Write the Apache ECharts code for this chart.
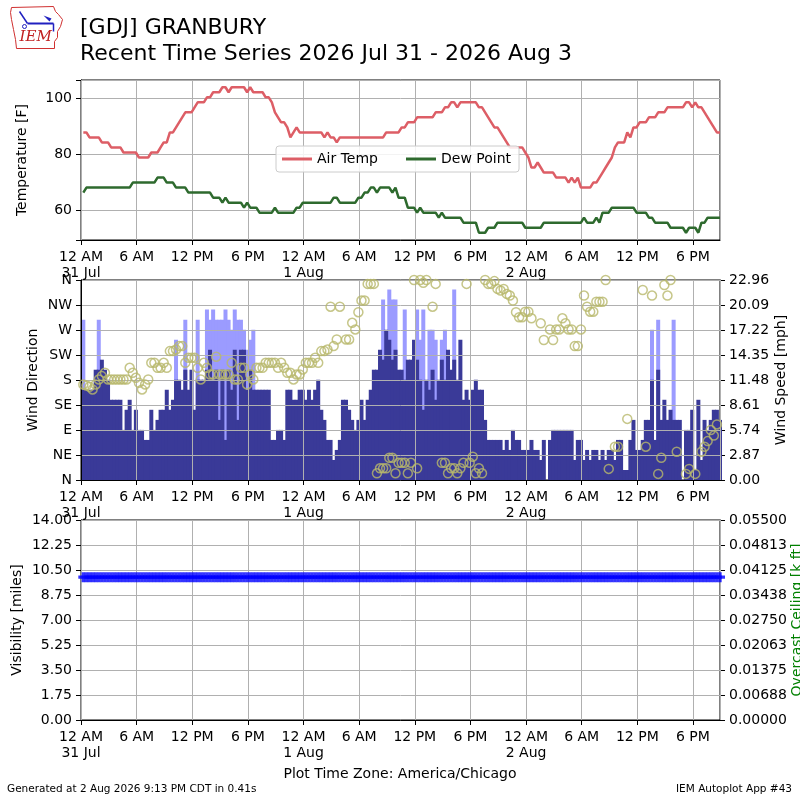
<!DOCTYPE html>
<html>
  <head>
      <meta charset="utf-8">
      <script src="https://cdn.jsdelivr.net/npm/echarts@6/dist/echarts.min.js"></script>
      <style>
        html, body { margin: 0; padding: 0; background: #fff; }
      </style>
  </head>
  <body>
      <div id="main" style="width: 800px;height:800px;"></div>
      <script type="text/javascript">
          // observations every 20 minutes, first at 00:15 on 31 Jul (local time)
          var firstObs = new Date(2026, 6, 31, 0, 15).getTime();
          var obsStep = 20 * 60 * 1000;
          var axisStart = new Date(2026, 6, 31, 0, 0).getTime();
          var axisEnd = new Date(2026, 7, 2, 20, 55).getTime();
          var sixHours = 6 * 3600 * 1000;

          // air temperature [F], one row = 6 hours
          var airTemp = [
            87.8,87.8,86,86,86,86,84.2,84.2,84.2,82.4,82.4,82.4,82.4,80.6,80.6,80.6,80.6,80.6,
            78.8,78.8,78.8,78.8,80.6,80.6,80.6,82.4,84.2,84.2,87.8,87.8,89.6,91.4,93.2,95,95,95,
            96.8,98.6,98.6,98.6,100.4,100.4,102.2,102.2,102.2,104,104,102.2,104,104,104,104,104,102.2,
            104,102.2,102.2,102.2,102.2,100.4,100.4,98.6,95,93.2,91.4,91.4,89.6,86,87.8,89.6,87.8,87.8,
            87.8,87.8,87.8,87.8,87.8,87.8,86,87.8,86,86,84.2,86,86,86,86,86,86,86,
            86,86,86,86,86,86,86,86,87.8,87.8,87.8,87.8,87.8,89.6,89.6,91.4,91.4,91.4,
            93.2,93.2,93.2,93.2,93.2,93.2,95,95,95,96.8,96.8,98.6,98.6,96.8,98.6,98.6,98.6,98.6,
            98.6,98.6,96.8,96.8,95,93.2,91.4,89.6,89.6,87.8,86,84.2,82.4,82.4,82.4,82.4,82.4,80.6,
            78.8,75.2,75.2,77,75.2,73.4,73.4,73.4,73.4,71.6,71.6,71.6,71.6,69.8,71.6,69.8,71.6,68,
            68,68,68,69.8,69.8,71.6,73.4,75.2,77,78.8,82.4,84.2,84.2,84.2,87.8,86,89.6,89.6,
            91.4,91.4,91.4,93.2,93.2,93.2,95,95,95,96.8,96.8,96.8,96.8,96.8,96.8,98.6,98.6,96.8,
            98.6,96.8,96.8,95,93.2,91.4,89.6,87.8,87.8
          ];

          // dew point [F]
          var dewPoint = [
            66.2,68,68,68,68,68,68,68,68,68,68,68,68,68,68,68,69.8,69.8,
            69.8,69.8,69.8,69.8,69.8,69.8,71.6,71.6,71.6,69.8,69.8,69.8,68,68,68,68,66.2,66.2,
            66.2,66.2,66.2,66.2,66.2,66.2,64.4,64.4,64.4,62.6,64.4,62.6,62.6,62.6,62.6,62.6,60.8,62.6,
            60.8,60.8,60.8,59,59,59,59,59,60.8,59,59,59,59,59,59,60.8,60.8,62.6,
            62.6,62.6,62.6,62.6,62.6,62.6,62.6,62.6,62.6,64.4,64.4,62.6,62.6,62.6,62.6,62.6,62.6,64.4,
            64.4,66.2,66.2,68,68,66.2,68,68,68,68,66.2,68,64.4,64.4,64.4,60.8,60.8,60.8,
            59,60.8,59,59,59,59,59,57.2,59,57.2,57.2,57.2,57.2,57.2,57.2,55.4,55.4,55.4,
            55.4,55.4,51.8,51.8,51.8,53.6,53.6,53.6,55.4,55.4,55.4,55.4,55.4,55.4,55.4,55.4,55.4,53.6,
            53.6,53.6,53.6,53.6,53.6,55.4,55.4,55.4,55.4,55.4,55.4,55.4,55.4,55.4,55.4,55.4,55.4,55.4,
            57.2,55.4,55.4,55.4,57.2,55.4,59,59,59,60.8,60.8,60.8,60.8,60.8,60.8,60.8,60.8,59,
            59,59,59,57.2,57.2,55.4,55.4,55.4,55.4,55.4,53.6,53.6,53.6,53.6,53.6,51.8,53.6,53.6,
            53.6,51.8,55.4,55.4,57.2,57.2,57.2,57.2,57.2
          ];

          // wind speed [mph]
          var windSpeed = [
            10.36,10.36,10.36,10.36,12.66,12.66,13.81,12.66,11.51,9.21,9.21,9.21,9.21,5.75,8.06,9.21,5.75,8.06,
            5.75,5.75,4.60,4.60,8.06,5.75,6.90,8.06,8.06,10.36,8.06,9.21,11.51,11.51,10.36,12.66,10.36,12.66,
            8.06,11.51,11.51,11.51,12.66,14.96,11.51,12.66,6.90,12.66,4.60,12.66,10.36,14.96,6.90,14.96,14.96,10.36,
            12.66,10.36,10.36,10.36,10.36,10.36,10.36,4.60,4.60,5.75,5.75,4.60,10.36,10.36,9.21,9.21,10.36,10.36,
            9.21,10.36,9.21,10.36,11.51,8.06,6.90,4.60,4.60,2.30,3.45,4.60,9.21,9.21,8.06,6.90,5.75,6.90,
            9.21,6.90,9.21,10.36,12.66,12.66,14.96,13.81,17.26,16.11,13.81,14.96,12.66,12.66,11.51,13.81,13.81,16.11,
            13.81,11.51,8.06,11.51,10.36,12.66,9.21,11.51,13.81,11.51,14.96,12.66,13.81,11.51,16.11,9.21,10.36,9.21,
            10.36,11.51,10.36,10.36,6.90,4.60,4.60,4.60,4.60,4.60,3.45,4.60,3.45,5.75,4.60,4.60,3.45,3.45,
            3.45,4.60,3.45,3.45,2.30,4.60,null,4.60,5.75,5.75,5.75,5.75,5.75,5.75,5.75,2.30,4.60,4.60,
            2.30,3.45,2.30,3.45,3.45,2.30,3.45,2.30,3.45,3.45,2.30,4.60,4.60,1.15,1.15,4.60,6.90,3.45,
            3.45,4.60,6.90,6.90,11.51,4.60,12.66,6.90,9.21,6.90,8.06,6.90,6.90,6.90,null,5.75,5.75,8.06,
            1.15,9.21,2.30,6.90,5.75,6.90,8.06,8.06,6.90
          ];

          // wind gust [mph]
          var windGust = [
            18.41,null,null,null,null,18.41,null,null,null,null,null,null,null,null,null,null,null,null,
            null,null,null,null,null,null,null,null,null,null,null,null,16.11,null,null,18.41,null,null,
            null,18.41,null,null,19.56,18.41,19.56,18.41,18.41,18.41,19.56,18.41,17.26,19.56,18.41,18.41,17.26,14.96,
            16.11,17.26,null,null,null,null,null,null,null,null,null,null,null,null,null,null,null,null,
            null,null,null,null,null,null,null,null,null,null,null,null,null,null,null,null,null,null,
            null,null,null,null,null,null,null,20.71,null,21.86,20.71,20.71,null,null,19.56,null,null,null,
            19.56,16.11,19.56,null,17.26,17.26,16.11,null,16.11,17.26,null,null,21.86,null,null,null,null,null,
            null,null,null,null,null,null,null,null,null,null,null,null,null,null,null,null,null,null,
            null,null,null,null,null,null,null,null,null,null,null,null,null,null,null,null,null,null,
            null,null,null,null,null,null,null,null,null,null,null,null,null,null,null,null,null,null,
            null,null,null,null,17.26,null,18.41,null,null,null,null,18.41,null,null,null,null,null,null,
            null,null,null,null,null,null,null,null,null
          ];

          // wind direction [deg]
          var windDir = [
            172,170,168,163,172,181,187,193,181,181,181,181,181,181,181,202,193,184,
            175,163,172,181,211,211,202,202,211,202,232,232,235,241,241,211,220,220,
            220,202,181,211,202,190,190,222,190,190,190,190,211,181,181,202,202,172,
            190,181,202,202,202,211,211,211,211,202,211,202,193,193,181,190,190,199,
            211,211,211,220,211,232,232,235,312,241,253,312,null,253,253,283,271,302,
            323,323,353,353,353,12,21,21,21,40,40,12,31,31,31,12,31,360,
            21,360,355,360,null,312,353,null,31,31,12,21,21,12,21,31,353,31,
            42,12,21,12,360,353,353,358,344,341,344,335,332,323,302,293,293,303,
            303,291,null,null,282,252,null,271,252,271,271,291,282,271,271,241,241,271,
            332,312,303,303,321,321,321,360,20,null,60,60,null,null,110,null,null,null,
            null,342,60,null,332,null,11,40,351,332,360,null,51,null,null,11,20,null,
            11,null,51,60,70,90,80,100,null
          ];

          // visibility [miles]
          var visibility = [
            10,10,10,10,10,10,10,10,10,10,10,10,10,10,10,10,10,10,
            10,10,10,10,10,10,10,10,10,10,10,10,10,10,10,10,10,10,
            10,10,10,10,10,10,10,10,10,10,10,10,10,10,10,10,10,10,
            10,10,10,10,10,10,10,10,10,10,10,10,10,10,10,10,10,10,
            10,10,10,10,10,10,10,10,10,10,10,10,10,10,10,10,10,10,
            10,10,10,10,10,10,10,10,10,10,10,10,10,10,10,10,10,10,
            10,10,10,10,10,10,10,10,10,10,10,10,10,10,10,10,10,10,
            10,10,10,10,10,10,10,10,10,10,10,10,10,10,10,10,10,10,
            10,10,10,10,10,10,10,10,10,10,10,10,10,10,10,10,10,10,
            10,10,10,10,10,10,10,10,10,10,10,10,10,10,10,10,10,10,
            10,10,10,10,10,10,10,10,10,10,10,10,10,10,10,10,10,10,
            10,10,10,10,10,10,10,10,10
          ];

          // tick labels
          var dirLabels = ['N', 'NE', 'E', 'SE', 'S', 'SW', 'W', 'NW', 'N'];
          var speedLabels = ['0.00', '2.87', '5.74', '8.61', '11.48', '14.35', '17.22', '20.09', '22.96'];
          var visLabels = ['0.00', '1.75', '3.50', '5.25', '7.00', '8.75', '10.50', '12.25', '14.00'];
          var ceilLabels = ['0.00000', '0.00688', '0.01375', '0.02063', '0.02750', '0.03438', '0.04125', '0.04813', '0.05500'];
          var hourLabels = {0: '12 AM', 6: '6 AM', 12: '12 PM', 18: '6 PM'};
          var monthNames = ['Jan', 'Feb', 'Mar', 'Apr', 'May', 'Jun', 'Jul', 'Aug', 'Sep', 'Oct', 'Nov', 'Dec'];

          var obsTimes = airTemp.map(function (v, i) { return firstObs + i * obsStep; });
          function pairs(arr) {
              var out = [];
              arr.forEach(function (v, i) {
                  if (v !== null) out.push([obsTimes[i], v]);
              });
              return out;
          }

          var font = 'DejaVu Sans';
          var gridColor = '#b0b0b0';

          function timeLabel(v) {
              if (Math.round(v - axisStart) % sixHours !== 0) return '';
              var d = new Date(v);
              var h = d.getHours();
              var s = hourLabels[h];
              if (h === 0) s += '\n' + d.getDate() + ' ' + monthNames[d.getMonth()];
              return s;
          }

          function xAxisFor(idx) {
              return {
                  type: 'value',
                  gridIndex: idx,
                  min: axisStart,
                  max: axisEnd,
                  interval: sixHours,
                  z: 3,
                  axisLine: {lineStyle: {color: '#000', width: 1}},
                  axisTick: {length: 5, lineStyle: {color: '#000'}},
                  axisLabel: {
                      formatter: timeLabel, color: '#000', fontSize: 14, fontFamily: font,
                      margin: 9, lineHeight: 16, showMaxLabel: false, hideOverlap: false
                  },
                  splitLine: {show: true, lineStyle: {color: gridColor, width: 1}}
              };
          }

          var axisText = {color: '#000', fontSize: 14, fontFamily: font};

          var myChart = echarts.init(document.getElementById('main'), null, {renderer: 'canvas'});

          var gridBase = {left: 81, width: 639, show: true, borderColor: '#000', borderWidth: 1,
                          containLabel: false, outerBoundsMode: 'none'};

          var option = {
              animation: false,
              backgroundColor: '#fff',
              textStyle: {fontFamily: font},
              grid: [
                  Object.assign({top: 80, height: 160}, gridBase),
                  Object.assign({top: 280, height: 200}, gridBase),
                  Object.assign({top: 520, height: 200}, gridBase)
              ],
              legend: {
                  data: ['Air Temp', 'Dew Point'],
                  left: 276, top: 146,
                  icon: 'rect', itemWidth: 30, itemHeight: 3, itemGap: 28,
                  padding: [6, 8, 6, 6],
                  backgroundColor: 'rgba(255,255,255,0.85)',
                  borderColor: '#cccccc', borderWidth: 1, borderRadius: 3,
                  textStyle: {color: '#000', fontSize: 14, fontFamily: font}
              },
              xAxis: [xAxisFor(0), xAxisFor(1), xAxisFor(2)],
              yAxis: [
                  {
                      type: 'value', gridIndex: 0, min: 49.2, max: 106.6, splitNumber: 3,
                      name: 'Temperature [F]', nameLocation: 'middle', nameRotate: 90, nameGap: 52,
                      nameMoveOverlap: false, nameTextStyle: axisText,
                      axisLine: {show: true, lineStyle: {color: '#000'}},
                      axisTick: {show: true, length: 5, lineStyle: {color: '#000'}},
                      axisLabel: {
                          color: '#000', fontSize: 14, fontFamily: font, margin: 9,
                          formatter: function (v) { return (Math.abs(v % 20) < 1e-6) ? String(v) : ''; }
                      },
                      splitLine: {lineStyle: {color: gridColor, width: 1}}
                  },
                  {
                      type: 'value', gridIndex: 1, min: 0, max: 360, interval: 45, z: 3,
                      name: 'Wind Direction', nameLocation: 'middle', nameRotate: 90, nameGap: 41,
                      nameMoveOverlap: false, nameTextStyle: axisText,
                      axisLine: {show: true, lineStyle: {color: '#000'}},
                      axisTick: {show: true, length: 5, lineStyle: {color: '#000'}},
                      axisLabel: {
                          color: '#000', fontSize: 14, fontFamily: font, margin: 9,
                          formatter: function (v) { return dirLabels[Math.round(v / 45)]; }
                      },
                      splitLine: {lineStyle: {color: gridColor, width: 1}}
                  },
                  {
                      type: 'value', gridIndex: 1, position: 'right', min: 0, max: 22.96, interval: 2.87,
                      name: 'Wind Speed [mph]', nameLocation: 'middle', nameRotate: 90, nameGap: 54,
                      nameMoveOverlap: false, nameTextStyle: axisText,
                      axisLine: {show: true, lineStyle: {color: '#000'}},
                      axisTick: {show: true, length: 5, lineStyle: {color: '#000'}},
                      axisLabel: {
                          color: '#000', fontSize: 14, fontFamily: font, margin: 9,
                          formatter: function (v) { return speedLabels[Math.round(v / 2.87)]; }
                      },
                      splitLine: {show: false}
                  },
                  {
                      type: 'value', gridIndex: 2, min: 0, max: 14, interval: 1.75,
                      name: 'Visibility [miles]', nameLocation: 'middle', nameRotate: 90, nameGap: 57,
                      nameMoveOverlap: false, nameTextStyle: axisText,
                      axisLine: {show: true, lineStyle: {color: '#000'}},
                      axisTick: {show: true, length: 5, lineStyle: {color: '#000'}},
                      axisLabel: {
                          color: '#000', fontSize: 14, fontFamily: font, margin: 9,
                          formatter: function (v) { return visLabels[Math.round(v / 1.75)]; }
                      },
                      splitLine: {lineStyle: {color: gridColor, width: 1}}
                  },
                  {
                      type: 'value', gridIndex: 2, position: 'right', min: 0, max: 0.055, interval: 0.006875,
                      name: 'Overcast Ceiling [k ft]', nameLocation: 'middle', nameRotate: 90, nameGap: 70,
                      nameMoveOverlap: false,
                      nameTextStyle: {color: '#008000', fontSize: 14, fontFamily: font},
                      axisLine: {show: true, lineStyle: {color: '#000'}},
                      axisTick: {show: true, length: 5, lineStyle: {color: '#000'}},
                      axisLabel: {
                          color: '#000', fontSize: 14, fontFamily: font, margin: 9,
                          formatter: function (v) { return ceilLabels[Math.round(v / 0.006875)]; }
                      },
                      splitLine: {show: false}
                  }
              ],
              series: [
                  {
                      name: 'Air Temp', type: 'line', xAxisIndex: 0, yAxisIndex: 0,
                      data: pairs(airTemp), showSymbol: false, color: '#dd5e66',
                      lineStyle: {color: '#dd5e66', width: 2.5}
                  },
                  {
                      name: 'Dew Point', type: 'line', xAxisIndex: 0, yAxisIndex: 0,
                      data: pairs(dewPoint), showSymbol: false, color: '#2e6a2e',
                      lineStyle: {color: '#2e6a2e', width: 2.5}
                  },
                  {
                      name: 'Gust', type: 'bar', xAxisIndex: 1, yAxisIndex: 2,
                      data: pairs(windGust), barWidth: 4, barGap: '-100%', z: 1,
                      itemStyle: {color: '#9b9bff'}
                  },
                  {
                      name: 'Speed', type: 'bar', xAxisIndex: 1, yAxisIndex: 2,
                      data: pairs(windSpeed), barWidth: 4, barGap: '-100%', z: 1,
                      itemStyle: {color: '#3a3a98'}
                  },
                  {
                      name: 'Direction', type: 'scatter', xAxisIndex: 1, yAxisIndex: 1,
                      data: pairs(windDir), symbol: 'circle', symbolSize: 9, z: 4,
                      itemStyle: {color: 'rgba(0,0,0,0)', borderColor: '#b8b86c', borderWidth: 1.5}
                  },
                  {
                      name: 'Visibility', type: 'scatter', xAxisIndex: 2, yAxisIndex: 3,
                      data: pairs(visibility), symbolSize: 10, z: 4,
                      symbol: 'path://M3.33,0h3.34v3.33h3.33v3.34h-3.33v3.33h-3.34v-3.33h-3.33v-3.34h3.33z',
                      itemStyle: {color: '#0000ff'}
                  }
              ],
              graphic: [
                  {type: 'text', left: 80, top: 17, style: {text: '[GDJ] GRANBURY', font: '22px "DejaVu Sans"', fill: '#000'}},
                  {type: 'text', left: 80, top: 43, style: {text: 'Recent Time Series 2026 Jul 31 - 2026 Aug 3', font: '22px "DejaVu Sans"', fill: '#000'}},
                  {type: 'text', left: 'center', top: 767, style: {text: 'Plot Time Zone: America/Chicago', font: '14px "DejaVu Sans"', fill: '#000'}},
                  {type: 'text', left: 7, top: 784, style: {text: 'Generated at 2 Aug 2026 9:13 PM CDT in 0.41s', font: '10.5px "DejaVu Sans"', fill: '#000'}},
                  {type: 'text', right: 8, top: 784, style: {text: 'IEM Autoplot App #43', font: '10.5px "DejaVu Sans"', fill: '#000'}},
                  // IEM logo: state outline, vane and letters
                  {
                      type: 'group', left: 8, top: 4,
                      children: [
                          {type: 'polygon', shape: {points: [[4, 4], [46, 3], [48, 8], [51, 11], [55, 16], [53, 23], [50, 28], [50, 34], [47, 38], [47, 45], [9, 45], [8, 36], [6, 26], [4, 16], [3, 9]]},
                           style: {fill: 'none', stroke: '#d03030', lineWidth: 1}},
                          {type: 'line', shape: {x1: 20, y1: 20, x2: 46, y2: 20}, style: {stroke: '#2020c0', lineWidth: 2}},
                          {type: 'line', shape: {x1: 12, y1: 8, x2: 20, y2: 20}, style: {stroke: '#2020c0', lineWidth: 1.5}},
                          {type: 'polygon', shape: {points: [[36, 12], [44, 15], [42, 18]]}, style: {fill: '#2020c0'}},
                          {type: 'line', shape: {x1: 46, y1: 20, x2: 46, y2: 28}, style: {stroke: '#2020c0', lineWidth: 1.5}},
                          {type: 'circle', shape: {cx: 17, cy: 23, r: 2}, style: {fill: 'none', stroke: '#2020c0', lineWidth: 1}},
                          {type: 'text', left: 12, top: 26, style: {text: 'IEM', font: 'italic 15px "DejaVu Serif"', fill: '#c02020'}}
                      ]
                  }
              ]
          };
        myChart.setOption(option);
      </script>
  </body>
</html>
